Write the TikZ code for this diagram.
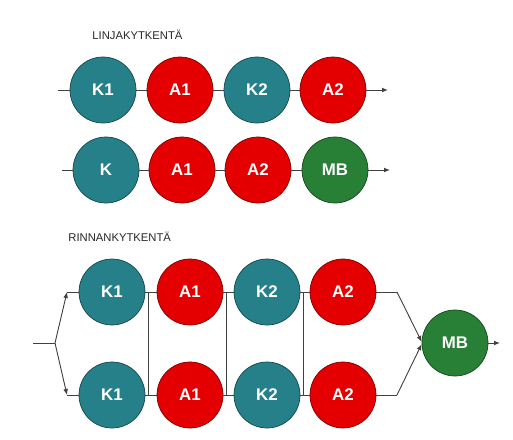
\documentclass[tikz,border=0pt]{standalone}
\usepackage{fontspec}
\setmainfont{Liberation Sans}
\usetikzlibrary{calc,arrows.meta}
\definecolor{turkoosi}{RGB}{38,128,138}
\definecolor{punainen}{RGB}{228,0,0}
\definecolor{vihrea}{RGB}{40,128,55}
\tikzset{
  pallo/.style={circle, minimum size=33mm, inner sep=0pt, line width=1pt,
    text=white, font=\bfseries\fontsize{24}{24}\selectfont},
  kpallo/.style={pallo, fill=turkoosi, draw=turkoosi!55!black},
  apallo/.style={pallo, fill=punainen, draw=punainen!55!black},
  mpallo/.style={pallo, fill=vihrea, draw=vihrea!55!black},
  johto/.style={line width=1.3pt, draw=black!75},
  otsikko/.style={anchor=west, text=black!85, font=\fontsize{16}{16}\selectfont}
}
\begin{document}
\begin{tikzpicture}[x=0.5mm,y=-0.5mm,>={Latex[length=3mm,width=2.4mm]}]
  \useasboundingbox (0,0) rectangle (513,439);

  % Linjakytkentä
  \node[otsikko] (t1) at (90,35) {LINJAKYTKENTÄ};
  \coordinate (in1) at (58,90);
  \node[kpallo] (k1) at (103,90) {K1};
  \node[apallo] (a1) at (180,90) {A1};
  \node[kpallo] (k2) at (257,90) {K2};
  \node[apallo] (a2) at (333,90) {A2};
  \coordinate (out1) at (388,90);
  \draw[johto] (in1) -- (k1) -- (a1) -- (k2) -- (a2);
  \draw[johto,->] (a2) -- (out1);

  \coordinate (in2) at (62,170);
  \node[kpallo] (k) at (106,170) {K};
  \node[apallo] (b1) at (182,170) {A1};
  \node[apallo] (b2) at (258,170) {A2};
  \node[mpallo] (mb1) at (335,170) {MB};
  \coordinate (out2) at (390,170);
  \draw[johto] (in2) -- (k) -- (b1) -- (b2) -- (mb1);
  \draw[johto,->] (mb1) -- (out2);

  % Rinnankytkentä
  \node[otsikko] (t2) at (66,237) {RINNANKYTKENTÄ};
  \node[kpallo] (pk1) at (112,292) {K1};
  \node[apallo] (pa1) at (190,292) {A1};
  \node[kpallo] (pk2) at (267,292) {K2};
  \node[apallo] (pa2) at (343,292) {A2};
  \node[kpallo] (qk1) at (112,395) {K1};
  \node[apallo] (qa1) at (190,395) {A1};
  \node[kpallo] (qk2) at (267,395) {K2};
  \node[apallo] (qa2) at (343,395) {A2};
  \node[mpallo] (mb) at (455,343) {MB};

  % haarautuminen
  \coordinate (in3) at (33,343);
  \coordinate (haara) at (55,343);
  \coordinate (ty) at (67,292);
  \coordinate (ta) at (67,395);
  \draw[johto] (in3) -- (haara);
  \draw[johto,->] (haara) -- (ty);
  \draw[johto,->] (haara) -- (ta);
  \draw[johto] (ty) -- (pk1) -- (pa1) -- (pk2) -- (pa2);
  \draw[johto] (ta) -- (qk1) -- (qa1) -- (qk2) -- (qa2);

  % poikittaiset
  \draw[johto] ($(pk1.east)!.3!(pa1.west)$) -- ($(qk1.east)!.3!(qa1.west)$);
  \draw[johto] ($(pa1.east)!.3!(pk2.west)$) -- ($(qa1.east)!.3!(qk2.west)$);
  \draw[johto] ($(pk2.east)!.3!(pa2.west)$) -- ($(qk2.east)!.3!(qa2.west)$);

  % yhdistyminen
  \coordinate (yo) at (397,292);
  \coordinate (ao) at (397,395);
  \coordinate (out3) at (500,343);
  \draw[johto] (pa2) -- (yo);
  \draw[johto] (qa2) -- (ao);
  \draw[johto,->] (yo) -- (mb.178);
  \draw[johto,->] (ao) -- (mb.182);
  \draw[johto,->] (mb) -- (out3);
\end{tikzpicture}
\end{document}
